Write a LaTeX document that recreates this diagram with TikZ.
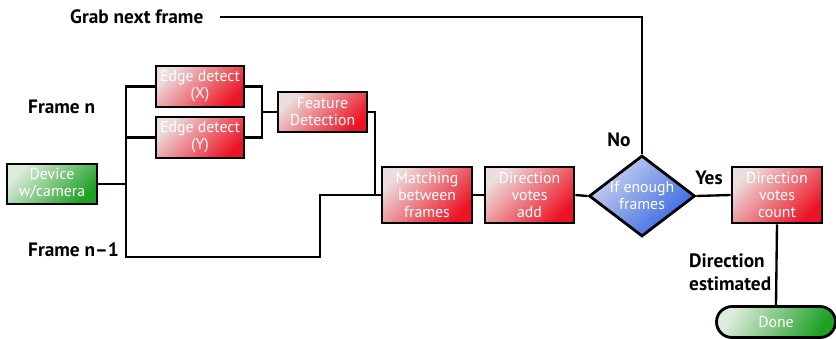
\documentclass[tikz,border=0pt]{standalone}
\usepackage{fontspec}
\setmainfont{PT Sans}
\usetikzlibrary{shapes.geometric,shapes.misc}
\definecolor{redlight}{RGB}{236,222,222}
\definecolor{reddark}{RGB}{236,20,36}
\definecolor{greenlight}{RGB}{222,236,222}
\definecolor{greendark}{RGB}{30,160,36}
\definecolor{bluelight}{RGB}{205,212,240}
\definecolor{bluedark}{RGB}{50,100,225}
\tikzset{
  x=0.03cm, y=-0.03cm,
  boxbase/.style={draw=black, line width=2.4pt, inner sep=0pt, align=center,
    text=white, font=\fontsize{13.5}{14.5}\selectfont},
  redbox/.style={boxbase, rectangle, top color=redlight, bottom color=reddark, shading angle=45},
  greenbox/.style={boxbase, rectangle, top color=greenlight, bottom color=greendark, shading angle=45},
  bluedia/.style={boxbase, diamond, aspect=1.31, top color=bluelight, bottom color=bluedark, shading angle=45},
  donebox/.style={boxbase, rounded rectangle, top color=greenlight, bottom color=greendark, shading angle=60},
  conn/.style={draw=black, line width=2pt},
  lbl/.style={font=\bfseries\fontsize{16.5}{18}\selectfont, inner sep=0pt, align=left},
}
\begin{document}
\begin{tikzpicture}
\useasboundingbox (0,0) rectangle (836,339);
% boxes
\node[redbox, minimum width=2.64cm, minimum height=1.23cm] (ex) at (200,86.5) {Edge detect\\(X)};
\node[redbox, minimum width=2.64cm, minimum height=1.23cm] (ey) at (200,137.5) {Edge detect\\(Y)};
\node[redbox, minimum width=2.67cm, minimum height=1.2cm] (feat) at (322.5,112) {Feature\\Detection};
\node[greenbox, minimum width=2.7cm, minimum height=1.2cm] (dev) at (52,184) {Device\\w/camera};
\node[redbox, minimum width=2.7cm, minimum height=1.68cm] (match) at (427,195) {Matching\\between\\frames};
\node[redbox, minimum width=2.67cm, minimum height=1.68cm] (add) at (529.5,195) {Direction\\votes\\add};
\node[bluedia, minimum width=3.18cm, minimum height=2.43cm] (dia) at (642,196) {If enough\\frames};
\node[redbox, minimum width=2.7cm, minimum height=1.68cm] (cnt) at (777,195) {Direction\\votes\\count};
\node[donebox, minimum width=3.57cm, minimum height=0.93cm] (done) at (776,322) {Done};
% labels
\node[lbl, anchor=west] (lgrab) at (70,17) {Grab next frame};
\node[lbl, anchor=west] (lfn) at (28,107) {Frame n};
\node[lbl, anchor=west] (lfn1) at (28,250) {Frame n–1};
\node[lbl, anchor=center] (lno) at (619,140) {No};
\node[lbl, anchor=center] (lyes) at (709,178) {Yes};
\node[lbl, anchor=north west, font=\bfseries\fontsize{16.5}{19}\selectfont] (lest) at (689,254) {Direction\\estimated};
% coordinates
\coordinate (sTop) at (126,86.5);
\coordinate (sBot) at (126,257);
\coordinate (nBot) at (320,257);
\coordinate (mg) at (262,112);
\coordinate (fm) at (375,195);
\coordinate (grab) at (220,17);
% connectors
\draw[conn] (ex.west) -- (sTop) -- (sBot) -- (nBot) |- (match.west);
\draw[conn] (ey.west) -- (ey.west -| sTop);
\draw[conn] (dev.east) -- (dev.east -| sTop);
\draw[conn] (ex.east) -| (mg) |- (ey.east);
\draw[conn] (mg) -- (feat.west);
\draw[conn] (feat.east) -| (fm);
\draw[conn] (match.east) -- (add.west);
\draw[conn] (add.east) -- (dia.west);
\draw[conn] (dia.east) -- (cnt.west);
\draw[conn] (cnt.south) -- (done.north);
\draw[conn] (dia.north) |- (grab);
\end{tikzpicture}
\end{document}
